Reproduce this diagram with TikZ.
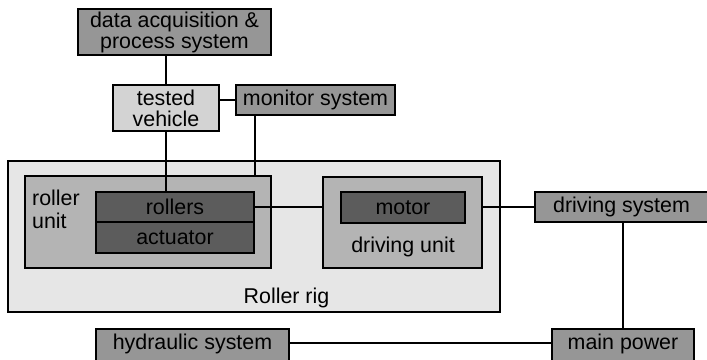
\documentclass[tikz,border=0pt]{standalone}
\usepackage{fontspec}
\setmainfont{Liberation Sans}
\usetikzlibrary{calc}
\definecolor{medgray}{RGB}{150,150,150}
\definecolor{dkgray}{RGB}{92,92,92}
\definecolor{ltgray}{RGB}{211,211,211}
\definecolor{unitgray}{RGB}{180,180,180}
\definecolor{riggray}{RGB}{230,230,230}
\begin{document}
\begin{tikzpicture}[x=1pt,y=-1pt,
  box/.style={draw=black, line width=1.8pt, rectangle, inner sep=0pt, align=center,
    font=\fontsize{21.4}{21}\selectfont},
  med/.style={box, fill=medgray},
  dk/.style={box, fill=dkgray},
  bottombox/.style={med, minimum height=32pt, text height=15.5pt, text depth=7pt},
  lbl/.style={inner sep=0pt, font=\fontsize{21.4}{23}\selectfont},
  wire/.style={draw=black, line width=1.8pt}]
\useasboundingbox (0,0) rectangle (707,359);
% boxes
\node[med, minimum width=193pt, minimum height=46pt] (daq) at (174.5,32) {data acquisition \&\\process system};
\node[box, fill=ltgray, minimum width=106pt, minimum height=46pt] (veh) at (166,108) {tested\\vehicle};
\node[med, minimum width=159pt, minimum height=30pt] (mon) at (315.5,100) {monitor system};
\node[box, fill=riggray, minimum width=492pt, minimum height=151pt] (rig) at (254,236.5) {};
\node[box, fill=unitgray, minimum width=246pt, minimum height=92pt] (ru) at (148,222) {};
\node[dk, minimum width=158pt, minimum height=30pt] (rol) at (175,207) {rollers};
\node[dk, minimum width=158pt, minimum height=31pt] (act) at (175,237.5) {actuator};
\node[box, fill=unitgray, minimum width=159pt, minimum height=91pt] (du) at (402.5,222.5) {};
\node[dk, minimum width=124pt, minimum height=31pt] (mot) at (403,207.5) {motor};
\node[med, minimum width=173pt, minimum height=30pt] (ds) at (621.5,207) {driving system};
\node[bottombox, minimum width=193pt] (hyd) at (192.5,345) {hydraulic system};
\node[bottombox, minimum width=142pt] (mp) at (623,345) {main power};
% labels
\node[lbl, anchor=north west, align=left] (rulbl) at (32,190) {roller\\unit};
\node[lbl] (dulbl) at (403,247) {driving unit};
\node[lbl] (riglbl) at (286.5,298) {Roller rig};
% connectors
\draw[wire] (veh.north) -- (veh.north |- daq.south);
\draw[wire] (mon.west) -- (mon.west -| veh.east);
\draw[wire] (veh.south) -- (veh.south |- rol.north);
\draw[wire] (rol.north east |- mon.south) -- (rol.north east |- ru.north);
\draw[wire] ($(mon.south east)+(-36,0)$) -- ($(mon.south east)+(-36,0)$ |- du.north);
\draw[wire] (rol.east) -- (rol.east -| du.west);
\draw[wire] (ds.west) -- (ds.west -| du.east);
\draw[wire] (mp.north) -- (mp.north |- ds.south);
\draw[wire] ($(act.south)+(8,0)$) -- ($(act.south)+(8,0)$ |- hyd.north);
\draw[wire] ($(hyd.east)+(0,-2)$) -- ($(mp.west)+(0,-2)$);
\end{tikzpicture}
\end{document}
